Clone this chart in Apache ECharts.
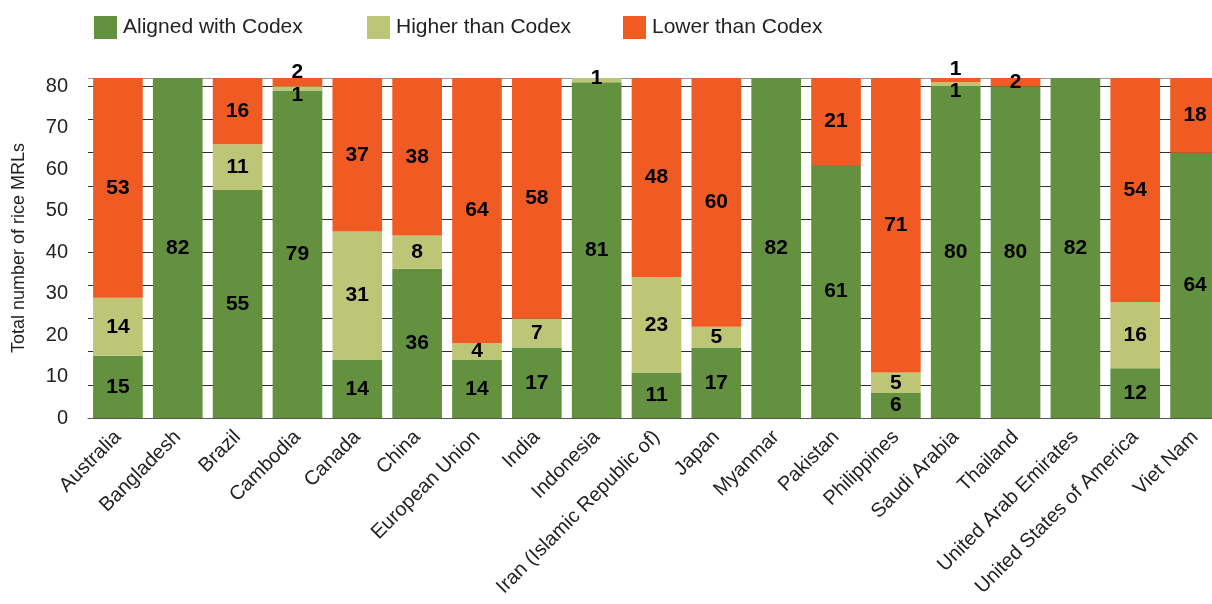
<!DOCTYPE html>
<html>
<head>
<meta charset="utf-8">
<style>
  html, body { margin: 0; padding: 0; background: #fff; }
  #chart { width: 1212px; height: 604px; }
</style>
<script src="https://cdn.jsdelivr.net/npm/echarts@6/dist/echarts.min.js"></script>
</head>
<body>
<div id="chart"></div>
<script>
// Rice MRLs per country compared with Codex
const categories = [
  'Australia', 'Bangladesh', 'Brazil', 'Cambodia', 'Canada', 'China',
  'European Union', 'India', 'Indonesia', 'Iran (Islamic Republic of)',
  'Japan', 'Myanmar', 'Pakistan', 'Philippines', 'Saudi Arabia',
  'Thailand', 'United Arab Emirates', 'United States of America', 'Viet Nam'
];
const aligned = [15, 82, 55, 79, 14, 36, 14, 17, 81, 11, 17, 82, 61, 6, 80, 80, 82, 12, 64];
const higher  = [14, 0, 11, 1, 31, 8, 4, 7, 1, 23, 5, 0, 0, 5, 1, 0, 0, 16, 0];
const lower   = [53, 0, 16, 2, 37, 38, 64, 58, 0, 48, 60, 0, 21, 71, 1, 2, 0, 54, 18];
const yTicks  = [0, 10, 20, 30, 40, 50, 60, 70, 80];

const seriesNames = ['Aligned with Codex', 'Higher than Codex', 'Lower than Codex'];
const colors = ['#63913f', '#bdc677', '#f05b24'];
const FONT = '"Liberation Sans", Arial, sans-serif';

// small segments near the top need their labels nudged apart
const nudges = {
  1: { 3: [0, 7], 8: [0, -2], 14: [0, 7] },
  2: { 3: [0, -10], 14: [0, -11] }
};

function buildData(values, seriesIdx) {
  return values.map((v, i) => {
    const item = { value: v };
    const off = nudges[seriesIdx] && nudges[seriesIdx][i];
    if (off) item.label = { offset: off };
    return item;
  });
}

const valueSets = [aligned, higher, lower];

const chart = echarts.init(document.getElementById('chart'), null, { renderer: 'canvas' });

const gridLineColors = [];
for (let i = 0; i < 11; i++) gridLineColors.push('#2e2e2e');
gridLineColors.push('#9a9a9a');

const legendLefts = [94, 367, 623];

chart.setOption({
  animation: false,
  backgroundColor: '#ffffff',
  textStyle: { fontFamily: FONT },
  legend: seriesNames.map((name, i) => ({
    data: [name],
    left: legendLefts[i],
    top: 16,
    itemWidth: 23,
    itemHeight: 23,
    icon: 'rect',
    padding: 0,
    itemGap: 0,
    textStyle: { fontSize: 21, color: '#222', fontFamily: FONT, padding: [0, 0, 0, 1] }
  })),
  grid: {
    left: 88, top: 78, width: 1137, height: 340,
    containLabel: false,
    outerBoundsMode: 'none'
  },
  xAxis: {
    type: 'category',
    data: categories,
    axisLine: { show: true, lineStyle: { color: '#555', width: 1 } },
    axisTick: { show: false },
    axisLabel: {
      rotate: 45,
      interval: 0,
      margin: 16,
      fontSize: 20,
      color: '#222',
      fontFamily: FONT
    }
  },
  yAxis: [
    {
      type: 'value',
      min: 0,
      max: 82,
      interval: 10,
      name: 'Total number of rice MRLs',
      nameLocation: 'middle',
      nameGap: 60,
      nameRotate: 90,
      nameTextStyle: { fontSize: 18, color: '#222', fontFamily: FONT },
      axisLine: { show: false },
      axisTick: { show: false },
      splitLine: { show: false },
      axisLabel: {
        fontSize: 20,
        color: '#222',
        margin: 20,
        showMaxLabel: false,
        fontFamily: FONT,
        formatter: v => (yTicks.indexOf(v) >= 0 ? String(v) : '')
      }
    },
    {
      type: 'value',
      position: 'left',
      min: 0,
      max: 82,
      interval: 8,
      axisLine: { show: false },
      axisTick: { show: false },
      axisLabel: { show: false },
      splitLine: { show: true, lineStyle: { color: gridLineColors, width: 1 } }
    }
  ],
  series: valueSets.map((vals, s) => ({
    name: seriesNames[s],
    type: 'bar',
    stack: 'total',
    yAxisIndex: 0,
    barCategoryGap: '17%',
    itemStyle: { color: colors[s] },
    label: {
      show: true,
      position: 'inside',
      color: '#000',
      fontWeight: 'bold',
      fontSize: 21,
      fontFamily: FONT,
      formatter: p => (p.value ? String(p.value) : '')
    },
    data: buildData(vals, s)
  }))
});
</script>
</body>
</html>
